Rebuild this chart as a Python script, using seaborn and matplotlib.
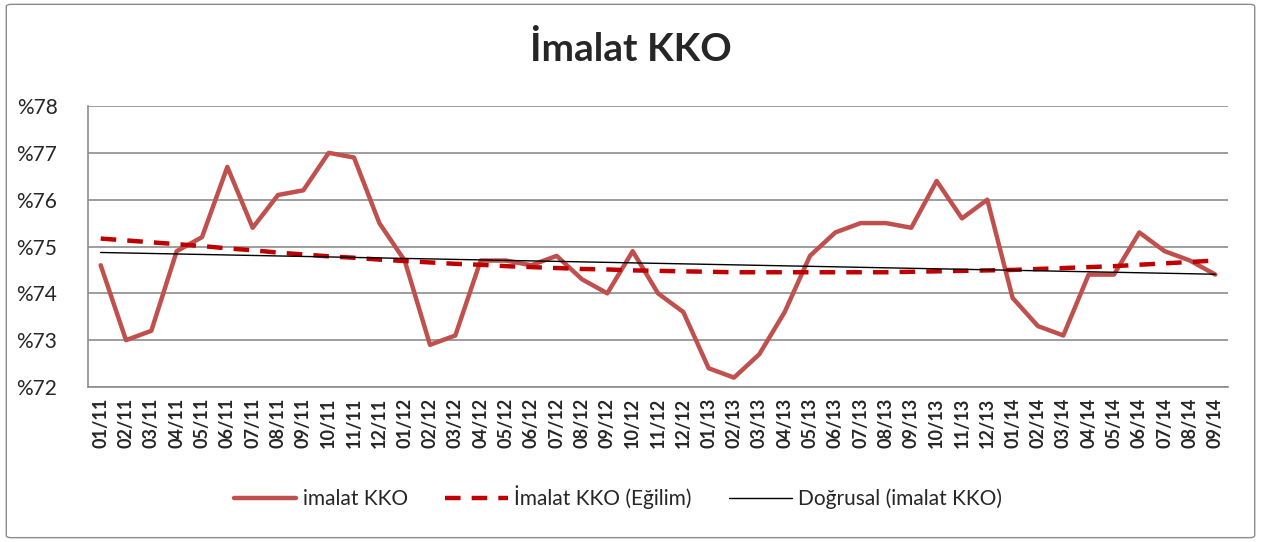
import numpy as np
import pandas as pd
import matplotlib
matplotlib.use("Agg")
import matplotlib.pyplot as plt
import seaborn as sns
from matplotlib.patches import FancyBboxPatch

# ---------------------------------------------------
# Data
# ---------------------------------------------------
months = [
    "01/11", "02/11", "03/11", "04/11", "05/11", "06/11", "07/11", "08/11", "09/11",
    "10/11", "11/11", "12/11", "01/12", "02/12", "03/12", "04/12", "05/12", "06/12",
    "07/12", "08/12", "09/12", "10/12", "11/12", "12/12", "01/13", "02/13", "03/13",
    "04/13", "05/13", "06/13", "07/13", "08/13", "09/13", "10/13", "11/13", "12/13",
    "01/14", "02/14", "03/14", "04/14", "05/14", "06/14", "07/14", "08/14", "09/14",
]

imalat_kko = [
    74.6, 73.0, 73.2, 74.9, 75.2, 76.7, 75.4, 76.1, 76.2,
    77.0, 76.9, 75.5, 74.7, 72.9, 73.1, 74.7, 74.7, 74.6,
    74.8, 74.3, 74.0, 74.9, 74.0, 73.6, 72.4, 72.2, 72.7,
    73.6, 74.8, 75.3, 75.5, 75.5, 75.4, 76.4, 75.6, 76.0,
    73.9, 73.3, 73.1, 74.4, 74.4, 75.3, 74.9, 74.7, 74.4,
]

imalat_egilim = [
    75.17, 75.13, 75.09, 75.05, 75.01, 74.96, 74.92, 74.87, 74.83,
    74.79, 74.76, 74.72, 74.69, 74.66, 74.63, 74.61, 74.58, 74.56,
    74.54, 74.52, 74.51, 74.49, 74.48, 74.47, 74.46, 74.45, 74.45,
    74.45, 74.45, 74.45, 74.45, 74.45, 74.46, 74.47, 74.48, 74.49,
    74.50, 74.52, 74.54, 74.56, 74.58, 74.61, 74.64, 74.67, 74.70,
]

y_ticks = [72, 73, 74, 75, 76, 77, 78]

df = pd.DataFrame({
    "idx": np.arange(len(months)),
    "kko": imalat_kko,
    "egilim": imalat_egilim,
})

# ---------------------------------------------------
# Style
# ---------------------------------------------------
sns.set_style("white")
plt.rcParams["font.family"] = ["Lato", "DejaVu Sans"]

fig = plt.figure(figsize=(12.61, 5.42), dpi=100)
ax = fig.add_axes([0.0698, 0.286, 0.904, 0.5184])

# outer chart border
fig.patches.append(FancyBboxPatch(
    (0.005, 0.008), 0.99, 0.984,
    boxstyle="round,pad=0,rounding_size=0.004",
    transform=fig.transFigure, facecolor="none",
    edgecolor="#8c8c8c", linewidth=1.0
))

sns.lineplot(data=df, x="idx", y="kko", ax=ax, color="#C0504D",
             linewidth=3.2, label="imalat KKO")
sns.lineplot(data=df, x="idx", y="egilim", ax=ax, color="#C00000",
             linewidth=3.2, linestyle=(0, (3.5, 2.5)), label="İmalat KKO (Eğilim)")
sns.regplot(data=df, x="idx", y="kko", ax=ax, scatter=False, ci=None,
            truncate=True, color="black", line_kws={"linewidth": 1.0},
            label="Doğrusal (imalat KKO)")

# ---------------------------------------------------
# Axes
# ---------------------------------------------------
ax.set_xlim(-0.5, len(months) - 0.5)
ax.set_ylim(72, 78)
ax.set_yticks(y_ticks)
ax.set_yticklabels([f"%{v}" for v in y_ticks], fontsize=15)
ax.set_xticks(df["idx"])
ax.set_xticklabels(months, rotation=90, fontsize=13, fontweight="bold")
ax.set_xticks(np.arange(-0.5, len(months)), minor=True)
ax.tick_params(axis="x", which="major", length=0, pad=8)
ax.tick_params(axis="x", which="minor", length=6, color="#8c8c8c", direction="out")
ax.tick_params(axis="y", length=6, color="#8c8c8c", pad=16)
ax.set_xlabel("")
ax.set_ylabel("")

ax.grid(axis="y", color="#8c8c8c", linewidth=1.2)
ax.set_axisbelow(True)
for side in ["top", "right"]:
    ax.spines[side].set_visible(False)
for side in ["left", "bottom"]:
    ax.spines[side].set_color("#8c8c8c")
    ax.spines[side].set_linewidth(1.2)

fig.text(0.5, 0.91, "İmalat KKO", ha="center", va="center",
         fontsize=28, fontweight="bold")

ax.get_legend().remove()
handles, labels = ax.get_legend_handles_labels()
fig.legend(handles, labels, loc="center", bbox_to_anchor=(0.49, 0.083), ncol=3,
           frameon=False, fontsize=15, handlelength=3.0, handletextpad=0.3,
           columnspacing=1.8)

fig.savefig("out.png", dpi=100)
plt.close(fig)
